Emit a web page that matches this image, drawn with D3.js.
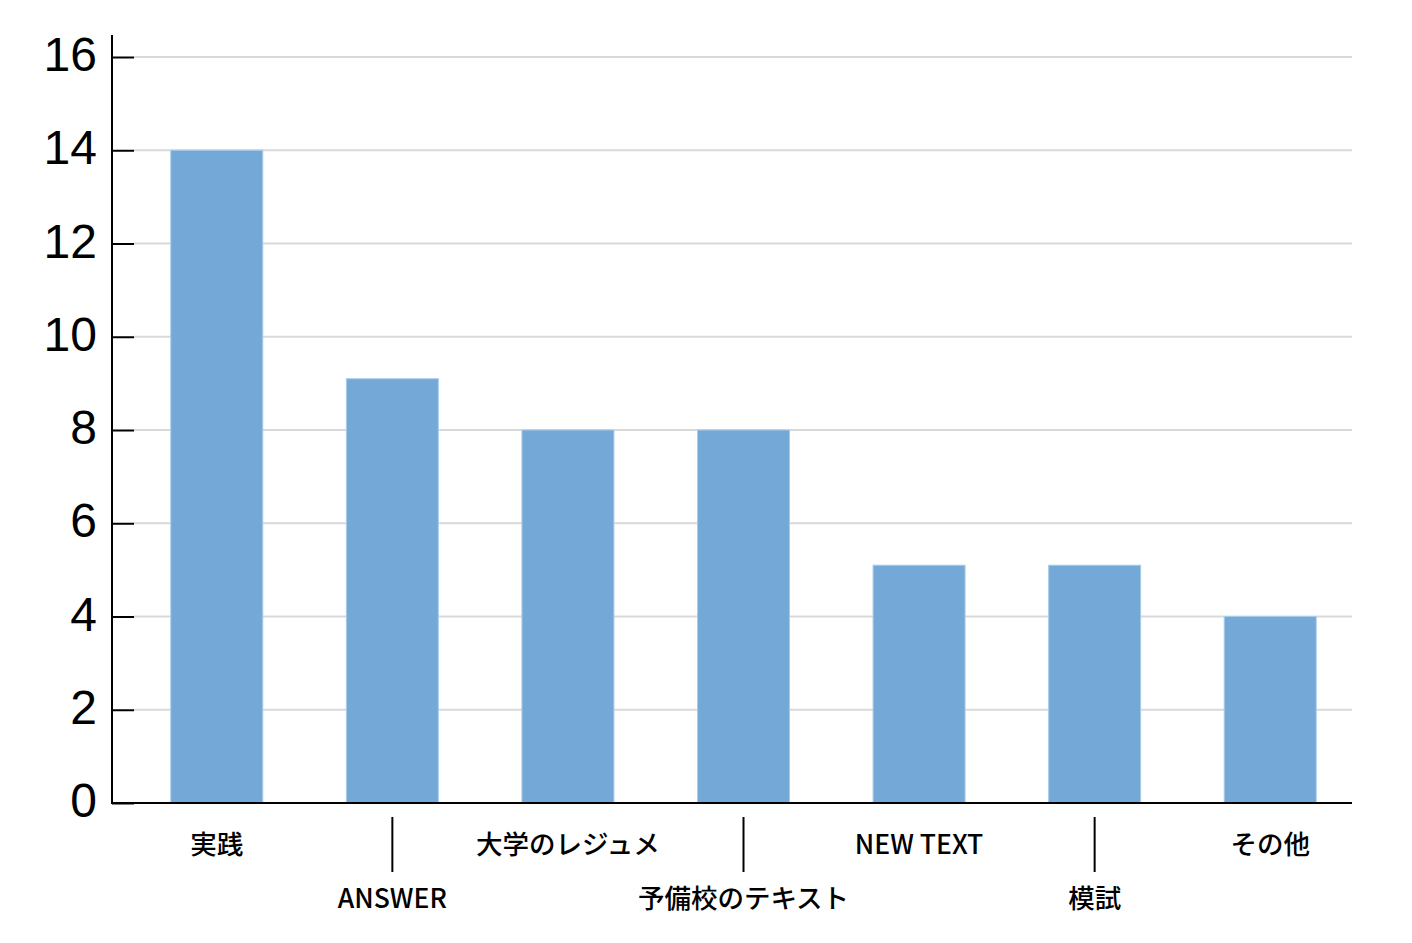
<!DOCTYPE html>
<html>
<head>
<meta charset="utf-8">
<script src="https://cdn.jsdelivr.net/npm/d3@7"></script>
<style>
  body { margin: 0; background: #fff; }
  svg { display: block; }
</style>
</head>
<body>
<script>
const WIDTH  = 1412;
const HEIGHT = 943;

// chart data
const categories = ["実践", "ANSWER", "大学のレジュメ", "予備校のテキスト", "NEW TEXT", "模試", "その他"];
const counts     = [14, 9.1, 8, 8, 5.1, 5.1, 4];
const yTicks     = [0, 2, 4, 6, 8, 10, 12, 14, 16];

const LEFT = 112, RIGHT = 1352, BOTTOM = 803, TOP = 57;

const svg = d3.select("body").append("svg")
    .attr("width", WIDTH)
    .attr("height", HEIGHT);

const xScale = d3.scaleBand()
    .domain(categories)
    .range([129, 1358])
    .paddingInner(0.476)
    .paddingOuter(0.238);

const yScale = d3.scaleLinear()
    .domain([0, 16])
    .range([BOTTOM, TOP]);

// gridlines
svg.append("g")
  .selectAll("line")
  .data(yTicks.filter(d => d > 0))
  .enter().append("line")
    .attr("x1", LEFT + 22)
    .attr("x2", RIGHT)
    .attr("y1", d => yScale(d))
    .attr("y2", d => yScale(d))
    .attr("stroke", "#d9d9d9")
    .attr("stroke-width", 2);

// bars
svg.append("g")
  .selectAll("rect")
  .data(categories)
  .enter().append("rect")
    .attr("x", d => xScale(d))
    .attr("y", (d, i) => yScale(counts[i]))
    .attr("width", xScale.bandwidth())
    .attr("height", (d, i) => BOTTOM - yScale(counts[i]))
    .attr("fill", "#74a9d7")
    .attr("stroke", "#a9cbea")
    .attr("stroke-width", 1);

// y axis
const yAxis = d3.axisRight(yScale)
    .tickValues(yTicks)
    .tickSize(22)
    .tickFormat("");

const yg = svg.append("g")
    .attr("transform", "translate(" + LEFT + ",0)")
    .call(yAxis);
yg.select(".domain").remove();
yg.selectAll(".tick line").attr("stroke", "#000").attr("stroke-width", 2);

svg.append("line")
    .attr("x1", LEFT).attr("x2", LEFT)
    .attr("y1", 35).attr("y2", BOTTOM + 1)
    .attr("stroke", "#000").attr("stroke-width", 2);

svg.append("g")
  .selectAll("text")
  .data(yTicks)
  .enter().append("text")
    .attr("x", 97)
    .attr("y", d => yScale(d) + 14)
    .attr("text-anchor", "end")
    .style("font-family", "'Liberation Sans', Arial, sans-serif")
    .style("font-size", "48px")
    .attr("fill", "#000")
    .text(d => d);

// x axis line
svg.append("line")
    .attr("x1", LEFT - 1).attr("x2", RIGHT)
    .attr("y1", BOTTOM).attr("y2", BOTTOM)
    .attr("stroke", "#000").attr("stroke-width", 2);

// x labels, staggered in two rows
const xg = svg.append("g");
xg.selectAll("text")
  .data(categories)
  .enter().append("text")
    .attr("x", d => xScale(d) + xScale.bandwidth() / 2)
    .attr("y", (d, i) => i % 2 === 0 ? 854 : 908)
    .attr("text-anchor", "middle")
    .style("font-family", "'Noto Sans CJK JP', 'Noto Sans', sans-serif")
    .style("font-weight", 500)
    .style("font-size", "26.5px")
    .attr("fill", "#000")
    .text(d => d);

xg.selectAll("line")
  .data(categories.filter((d, i) => i % 2 === 1))
  .enter().append("line")
    .attr("x1", d => xScale(d) + xScale.bandwidth() / 2)
    .attr("x2", d => xScale(d) + xScale.bandwidth() / 2)
    .attr("y1", 817)
    .attr("y2", 872)
    .attr("stroke", "#000")
    .attr("stroke-width", 2);
</script>
</body>
</html>
